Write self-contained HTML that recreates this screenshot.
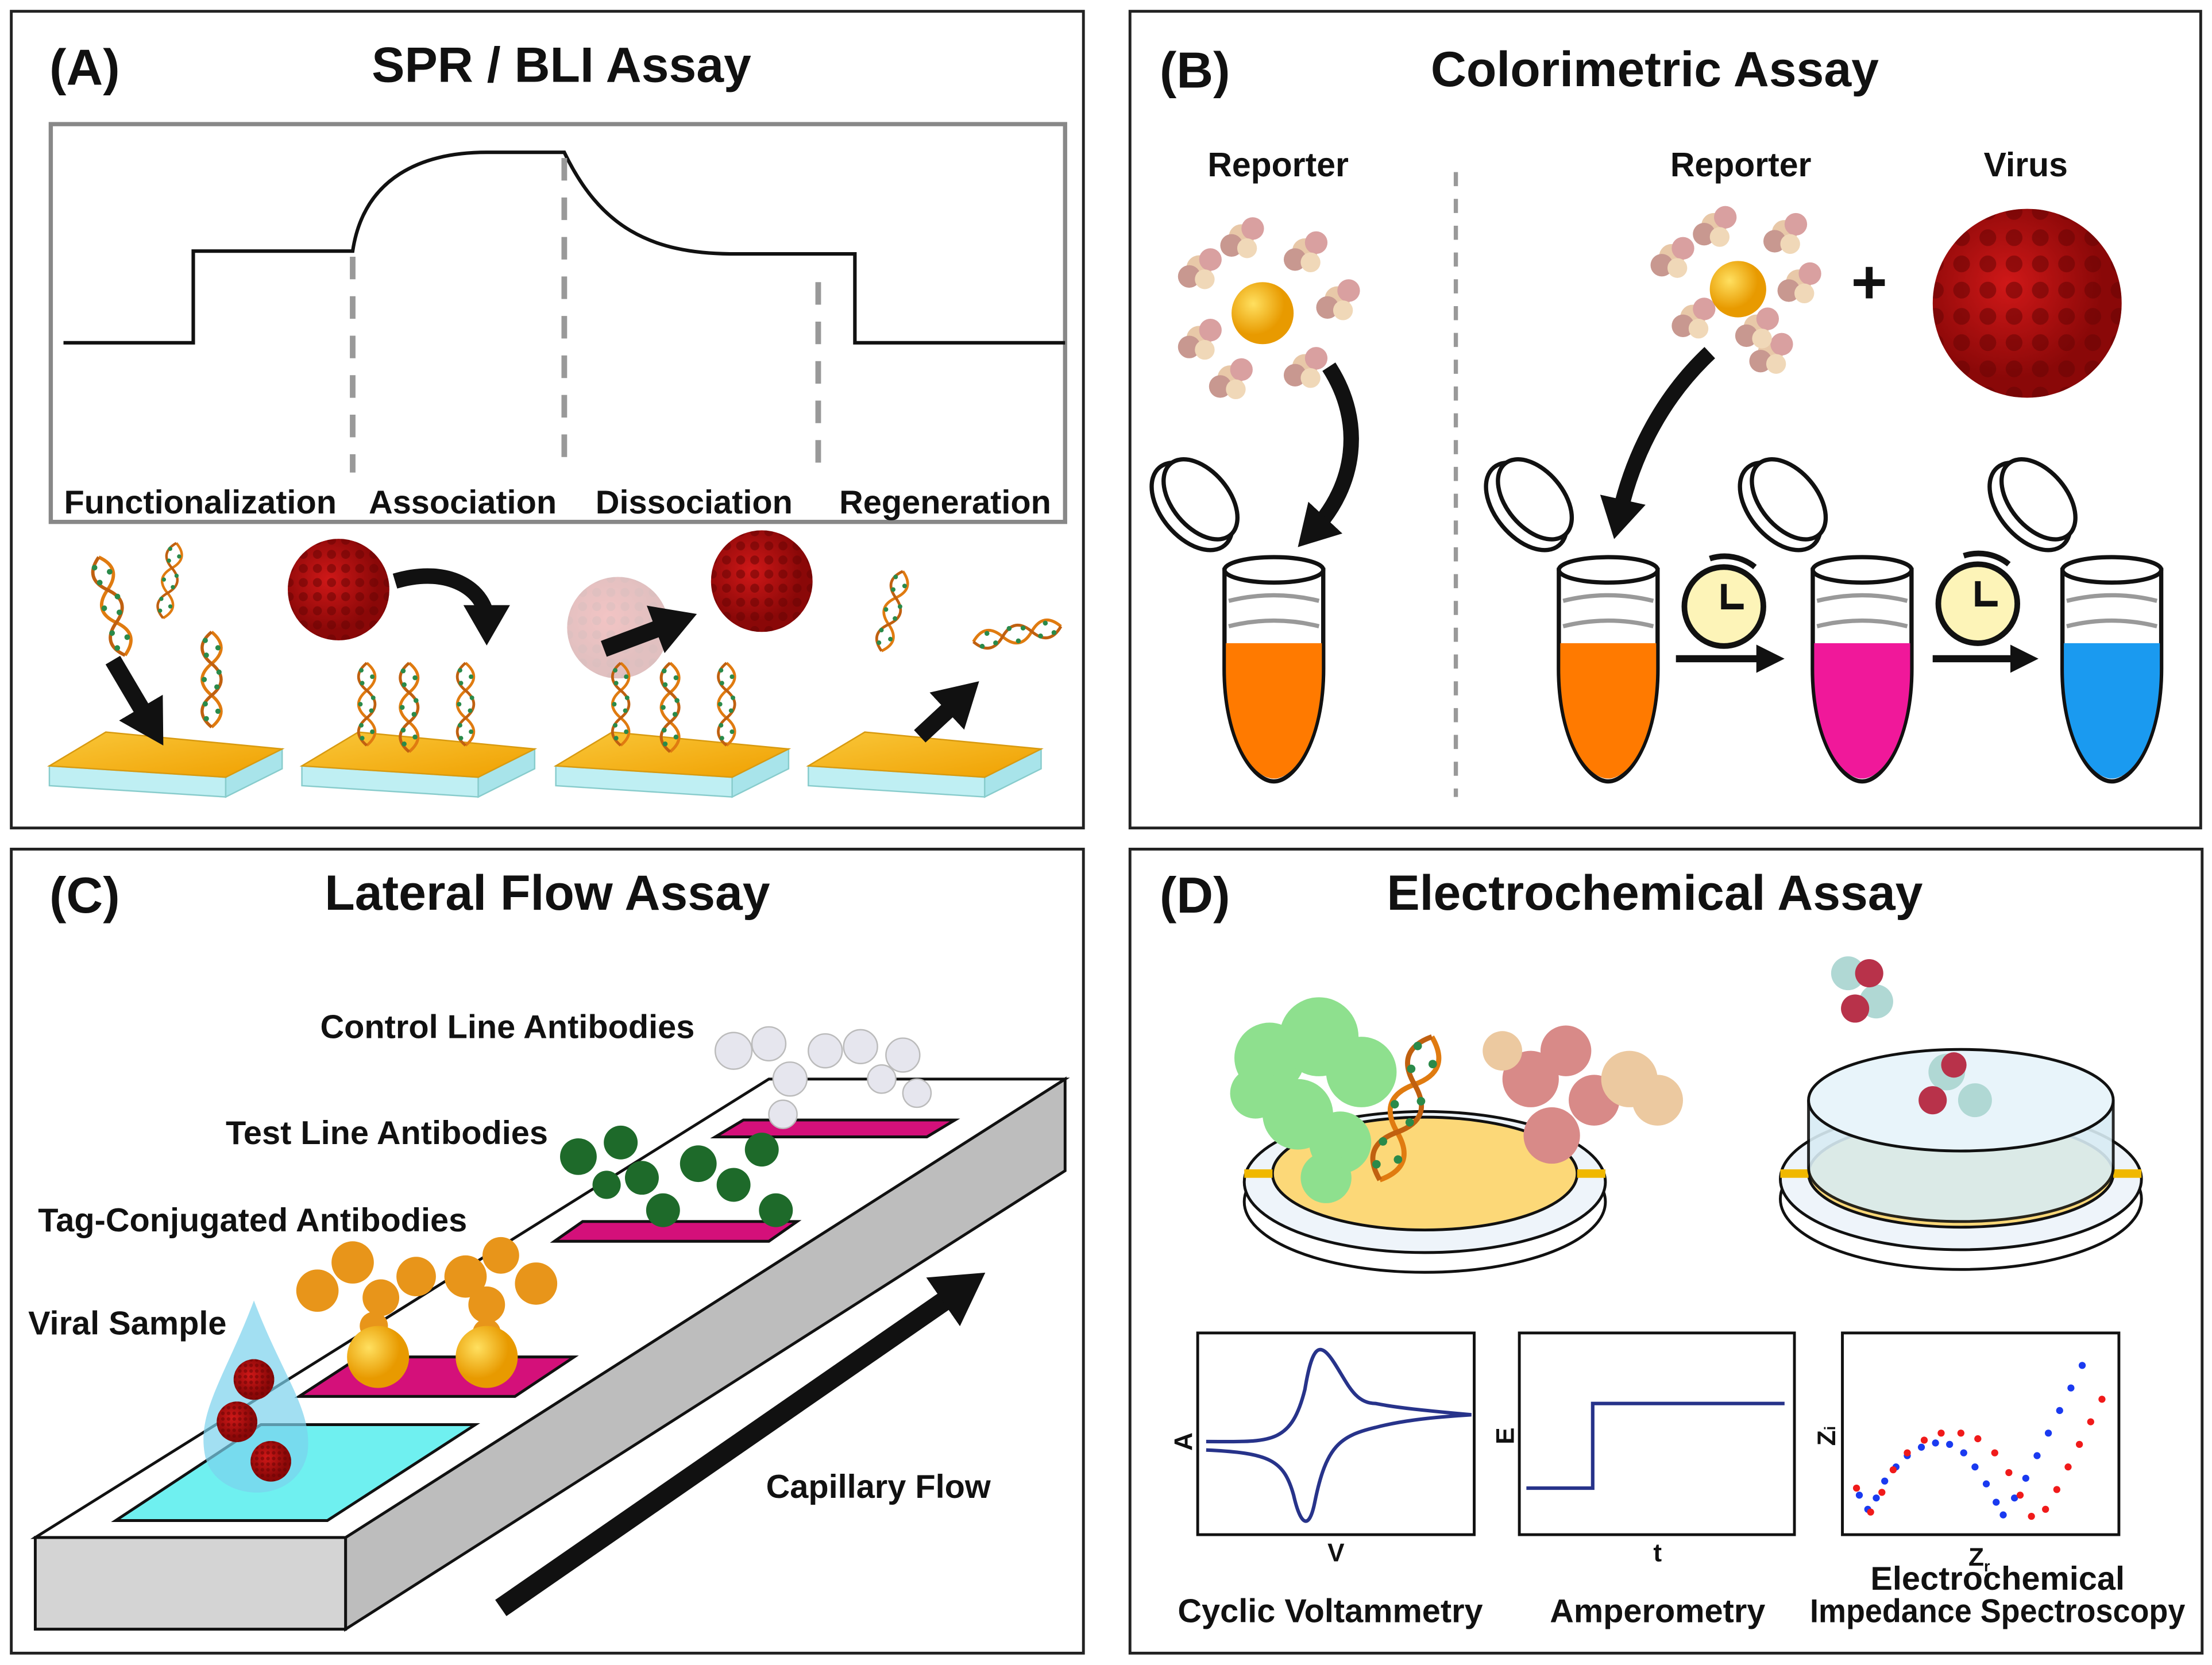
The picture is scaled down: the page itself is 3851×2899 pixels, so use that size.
<!DOCTYPE html>
<html><head><meta charset="utf-8"><style>
html,body{margin:0;padding:0;background:#fff;}
svg{display:block;}
text{font-family:"Liberation Sans",Arial,sans-serif;font-weight:bold;fill:#111;}
</style></head><body>
<svg width="3851" height="2899" viewBox="0 0 1568 1180.4" preserveAspectRatio="none" xmlns="http://www.w3.org/2000/svg">
<defs>
<g id="dna">
<path d="M0,0 C12,10 12,20 0,30 C-12,40 -12,50 0,60 C12,70 12,80 0,90" fill="none" stroke="#e07b10" stroke-width="3"/>
<path d="M0,0 C-12,10 -12,20 0,30 C12,40 12,50 0,60 C-12,70 -12,80 0,90" fill="none" stroke="#c06010" stroke-width="3"/>
<g fill="#2a8a4a"><circle cx="-6" cy="8" r="2.5"/><circle cx="6" cy="15" r="2.5"/><circle cx="-5" cy="22" r="2.5"/><circle cx="7" cy="38" r="2.5"/><circle cx="-7" cy="45" r="2.5"/><circle cx="5" cy="52" r="2.5"/><circle cx="-6" cy="68" r="2.5"/><circle cx="6" cy="75" r="2.5"/><circle cx="-5" cy="82" r="2.5"/></g>
</g>
<linearGradient id="gold" x1="0" y1="0" x2="1" y2="1"><stop offset="0" stop-color="#f9c73a"/><stop offset="1" stop-color="#f0a000"/></linearGradient>
<g id="slab">
<polygon points="0,38 125,46 125,60 0,52" fill="#bfeff3" stroke="#8cc" stroke-width="1"/>
<polygon points="125,46 165,26 165,40 125,60" fill="#a8e4ea" stroke="#8cc" stroke-width="1"/>
<polygon points="0,38 40,14 165,26 125,46" fill="url(#gold)" stroke="#d89a10" stroke-width="1"/>
</g>
<radialGradient id="vir" cx="0.4" cy="0.4"><stop offset="0" stop-color="#d01818"/><stop offset="1" stop-color="#8a0808"/></radialGradient>
<pattern id="vdots" width="10" height="10" patternUnits="userSpaceOnUse"><circle cx="5" cy="5" r="3.2" fill="#6a0404" opacity="0.55"/></pattern>
<g id="virus"><circle r="36" fill="url(#vir)"/><circle r="36" fill="url(#vdots)"/></g>
<radialGradient id="gball" cx="0.35" cy="0.35"><stop offset="0" stop-color="#ffe060"/><stop offset="1" stop-color="#e89a00"/></radialGradient>
<g id="ab"><circle cx="0" cy="0" r="9" fill="#e8c8a8"/><circle cx="8" cy="-6" r="8" fill="#d9a0a0"/><circle cx="-7" cy="6" r="8" fill="#c89890"/><circle cx="4" cy="8" r="7" fill="#f0d8b8"/></g>
<g id="tube">
<path d="M-35,0 L-35,70 C-35,120 -15,150 0,150 C15,150 35,120 35,70 L35,0 Z" fill="#fff" stroke="#111" stroke-width="3"/>
<ellipse cx="0" cy="0" rx="35" ry="9" fill="#fff" stroke="#111" stroke-width="3"/>
<path d="M-32,22 Q0,14 32,22 M-32,40 Q0,32 32,40" stroke="#999" stroke-width="3" fill="none"/>
<ellipse cx="-58" cy="-45" rx="22" ry="36" transform="rotate(-40 -58 -45)" fill="#fff" stroke="#111" stroke-width="3"/>
<ellipse cx="-52" cy="-50" rx="20" ry="33" transform="rotate(-40 -52 -50)" fill="#fff" stroke="#111" stroke-width="3"/>
</g>
<g id="clock"><circle r="28" fill="#fdf4b8" stroke="#111" stroke-width="4"/><path d="M0,-16 V0 H14" stroke="#111" stroke-width="4" fill="none"/><path d="M-10,-34 A34,34 0 0,1 22,-28" stroke="#111" stroke-width="4" fill="none"/></g>
<marker id="ah" markerWidth="2.6" markerHeight="3" refX="1" refY="1.5" orient="auto"><path d="M0,0 L2.6,1.5 L0,3 Z" fill="#111"/></marker>
<marker id="ah2" markerWidth="4" markerHeight="4" refX="1" refY="2" orient="auto"><path d="M0,0 L4,2 L0,4 Z" fill="#111"/></marker>
</defs>
<rect width="1568" height="1180.4" fill="#fff"/>
<g fill="none" stroke="#222" stroke-width="2">
<rect x="8" y="8" width="760" height="579"/>
<rect x="801" y="8" width="759" height="579"/>
<rect x="8" y="602" width="760" height="570"/>
<rect x="801" y="602" width="760" height="570"/>
</g>
<!-- A -->
<text x="35" y="60" font-size="36">(A)</text>
<text x="398" y="58" font-size="35" text-anchor="middle">SPR / BLI Assay</text>
<rect x="36" y="88" width="719" height="282" fill="none" stroke="#888" stroke-width="3"/>
<path d="M45,243 H137 V178 H250 C258,125 300,108 345,108 H400 C425,160 460,180 520,180 H606 V243 H755" fill="none" stroke="#111" stroke-width="2.5"/>
<g stroke="#999" stroke-width="4" stroke-dasharray="16,12"><line x1="250" y1="182" x2="250" y2="335"/><line x1="400" y1="112" x2="400" y2="330"/><line x1="580" y1="200" x2="580" y2="330"/></g>
<g font-size="23.5"><text x="142" y="364" text-anchor="middle">Functionalization</text><text x="328" y="364" text-anchor="middle">Association</text><text x="492" y="364" text-anchor="middle">Dissociation</text><text x="670" y="364" text-anchor="middle">Regeneration</text></g>
<use href="#slab" x="35" y="505"/><use href="#slab" x="214" y="505"/><use href="#slab" x="394" y="505"/><use href="#slab" x="573" y="505"/>
<use href="#dna" transform="translate(70,395) rotate(-15) scale(0.8)"/>
<use href="#dna" transform="translate(125,385) rotate(10) scale(0.6)"/>
<use href="#dna" transform="translate(150,448) scale(0.75)"/>
<path d="M80,468 L106,512" stroke="#111" stroke-width="12" marker-end="url(#ah)"/>
<use href="#virus" x="240" y="418"/>
<path d="M280,412 C320,400 345,420 345,440" fill="none" stroke="#111" stroke-width="11" marker-end="url(#ah)"/>
<use href="#dna" transform="translate(260,470) scale(0.65)"/><use href="#dna" transform="translate(290,470) scale(0.7)"/><use href="#dna" transform="translate(330,470) scale(0.65)"/>
<g opacity="0.25"><use href="#virus" x="438" y="445"/></g>
<use href="#virus" x="540" y="412"/>
<path d="M428,460 L476,442" stroke="#111" stroke-width="12" marker-end="url(#ah)"/>
<use href="#dna" transform="translate(440,470) scale(0.65)"/><use href="#dna" transform="translate(475,470) scale(0.7)"/><use href="#dna" transform="translate(515,470) scale(0.65)"/>
<use href="#dna" transform="translate(640,405) rotate(15) scale(0.65)"/>
<use href="#dna" transform="translate(690,455) rotate(-100) scale(0.7)"/>
<path d="M652,522 L680,496" stroke="#111" stroke-width="12" marker-end="url(#ah)"/>
<!-- B -->
<text x="822" y="62" font-size="36">(B)</text>
<text x="1173" y="61" font-size="35" text-anchor="middle">Colorimetric Assay</text>
<g font-size="24"><text x="906" y="125" text-anchor="middle">Reporter</text><text x="1234" y="125" text-anchor="middle">Reporter</text><text x="1436" y="125" text-anchor="middle">Virus</text></g>
<line x1="1032" y1="122" x2="1032" y2="565" stroke="#999" stroke-width="3" stroke-dasharray="10,9"/>
<g><use href="#ab" x="850" y="190"/><use href="#ab" x="880" y="168"/><use href="#ab" x="925" y="178"/><use href="#ab" x="948" y="212"/><use href="#ab" x="925" y="260"/><use href="#ab" x="872" y="268"/><use href="#ab" x="850" y="240"/><circle cx="895" cy="222" r="22" fill="url(#gball)"/></g>
<g><use href="#ab" x="1185" y="182"/><use href="#ab" x="1215" y="160"/><use href="#ab" x="1265" y="165"/><use href="#ab" x="1275" y="200"/><use href="#ab" x="1255" y="250"/><use href="#ab" x="1200" y="225"/><use href="#ab" x="1245" y="232"/><circle cx="1232" cy="205" r="20" fill="url(#gball)"/></g>
<text x="1325" y="215" font-size="44" text-anchor="middle">+</text>
<g transform="translate(1437,215) scale(1.86)"><use href="#virus"/></g>
<path d="M942,260 C968,300 960,345 932,375" fill="none" stroke="#111" stroke-width="11" marker-end="url(#ah)"/>
<path d="M1212,250 C1180,280 1158,320 1148,365" fill="none" stroke="#111" stroke-width="11" marker-end="url(#ah)"/>
<g transform="translate(903,404)"><use href="#tube"/><path d="M-34,52 L34,52 L34,70 C34,120 15,148 0,148 C-15,148 -34,120 -34,70 Z" fill="#ff7a00"/></g>
<g transform="translate(1140,404)"><use href="#tube"/><path d="M-34,52 L34,52 L34,70 C34,120 15,148 0,148 C-15,148 -34,120 -34,70 Z" fill="#ff7a00"/></g>
<g transform="translate(1320,404)"><use href="#tube"/><path d="M-34,52 L34,52 L34,70 C34,120 15,148 0,148 C-15,148 -34,120 -34,70 Z" fill="#f0189a"/></g>
<g transform="translate(1497,404)"><use href="#tube"/><path d="M-34,52 L34,52 L34,70 C34,120 15,148 0,148 C-15,148 -34,120 -34,70 Z" fill="#1a9af0"/></g>
<use href="#clock" x="1222" y="430"/><use href="#clock" x="1402" y="428"/>
<path d="M1188,467 H1250" stroke="#111" stroke-width="5" marker-end="url(#ah2)"/>
<path d="M1370,467 H1430" stroke="#111" stroke-width="5" marker-end="url(#ah2)"/>
<!-- C -->
<text x="35" y="647" font-size="36">(C)</text>
<text x="388" y="645" font-size="35" text-anchor="middle">Lateral Flow Assay</text>
<polygon points="25,1090 245,1090 245,1155 25,1155" fill="#d4d4d4" stroke="#111" stroke-width="2"/>
<polygon points="245,1090 755,765 755,830 245,1155" fill="#bdbdbd" stroke="#111" stroke-width="2"/>
<polygon points="25,1090 245,1090 755,765 545,765" fill="#fff" stroke="#111" stroke-width="2"/>
<polygon points="82,1078 232,1078 337,1010 185,1010" fill="#6ff0f0" stroke="#111" stroke-width="2"/>
<polygon points="212,990 365,990 407,962 255,962" fill="#d4107a" stroke="#111" stroke-width="2"/>
<polygon points="393,880 545,880 565,866 413,866" fill="#d4107a" stroke="#111" stroke-width="2"/>
<polygon points="507,806 657,806 677,794 527,794" fill="#d4107a" stroke="#111" stroke-width="2"/>
<path d="M355,1140 L680,915" stroke="#111" stroke-width="14" marker-end="url(#ah)"/>
<g fill="#e8951a"><circle cx="225" cy="915" r="15"/><circle cx="250" cy="895" r="15"/><circle cx="270" cy="920" r="13"/><circle cx="295" cy="905" r="14"/><circle cx="330" cy="905" r="15"/><circle cx="345" cy="925" r="13"/><circle cx="380" cy="910" r="15"/><circle cx="355" cy="890" r="13"/><circle cx="265" cy="940" r="10"/><circle cx="345" cy="945" r="10"/></g>
<circle cx="268" cy="962" r="22" fill="url(#gball)"/><circle cx="345" cy="962" r="22" fill="url(#gball)"/>
<g fill="#1e6a2a"><circle cx="410" cy="820" r="13"/><circle cx="440" cy="810" r="12"/><circle cx="455" cy="835" r="12"/><circle cx="470" cy="858" r="12"/><circle cx="495" cy="825" r="13"/><circle cx="520" cy="840" r="12"/><circle cx="540" cy="815" r="12"/><circle cx="550" cy="858" r="12"/><circle cx="430" cy="840" r="10"/></g>
<g fill="#e6e6ee" stroke="#bbb" stroke-width="1"><circle cx="520" cy="745" r="13"/><circle cx="545" cy="740" r="12"/><circle cx="560" cy="765" r="12"/><circle cx="555" cy="790" r="10"/><circle cx="585" cy="745" r="12"/><circle cx="610" cy="742" r="12"/><circle cx="640" cy="748" r="12"/><circle cx="650" cy="775" r="10"/><circle cx="625" cy="765" r="10"/></g>
<path d="M180,922 C160,975 140,1000 145,1030 C150,1065 210,1070 218,1030 C222,1000 200,975 180,922 Z" fill="#7ad2ec" opacity="0.7"/>
<use href="#virus" transform="translate(180,978) scale(0.4)"/><use href="#virus" transform="translate(168,1008) scale(0.4)"/><use href="#virus" transform="translate(192,1036) scale(0.4)"/>
<g font-size="23.5"><text x="227" y="736">Control Line Antibodies</text><text x="160" y="811">Test Line Antibodies</text><text x="27" y="873">Tag-Conjugated Antibodies</text><text x="20" y="946">Viral Sample</text><text x="543" y="1062">Capillary Flow</text></g>
<!-- D -->
<text x="822" y="647" font-size="36">(D)</text>
<text x="1173" y="645" font-size="35" text-anchor="middle">Electrochemical Assay</text>
<ellipse cx="1010" cy="852" rx="128" ry="50" fill="#fff" stroke="#111" stroke-width="2"/>
<ellipse cx="1010" cy="838" rx="128" ry="50" fill="#eef4fa" stroke="#111" stroke-width="2"/>
<ellipse cx="1010" cy="832" rx="108" ry="40" fill="#fcd878" stroke="#111" stroke-width="2"/>
<path d="M882,832 H902 M1118,832 H1138" stroke="#f0b800" stroke-width="6"/>
<g fill="#8ee08e"><circle cx="900" cy="750" r="25"/><circle cx="935" cy="735" r="28"/><circle cx="965" cy="760" r="25"/><circle cx="920" cy="790" r="25"/><circle cx="950" cy="810" r="22"/><circle cx="940" cy="835" r="18"/><circle cx="890" cy="775" r="18"/></g>
<use href="#dna" transform="translate(1015,735) rotate(20) scale(1.2)"/>
<g fill="#d88a88"><circle cx="1085" cy="765" r="20"/><circle cx="1110" cy="745" r="18"/><circle cx="1100" cy="805" r="20"/><circle cx="1130" cy="780" r="18"/></g>
<g fill="#ecc9a0"><circle cx="1155" cy="765" r="20"/><circle cx="1175" cy="780" r="18"/><circle cx="1065" cy="745" r="14"/></g>
<ellipse cx="1390" cy="850" rx="128" ry="50" fill="#fff" stroke="#111" stroke-width="2"/>
<ellipse cx="1390" cy="836" rx="128" ry="50" fill="#eef4fa" stroke="#111" stroke-width="2"/>
<ellipse cx="1390" cy="832" rx="108" ry="38" fill="#fcd878" stroke="#111" stroke-width="2"/>
<path d="M1262,832 H1282 M1498,832 H1518" stroke="#f0b800" stroke-width="6"/>
<path d="M1282,780 V828 A108,38 0 0,0 1498,828 V780" fill="#d8ecf4" stroke="#111" stroke-width="2" opacity="0.9"/>
<ellipse cx="1390" cy="780" rx="108" ry="36" fill="#e8f4fa" stroke="#111" stroke-width="2"/>
<g fill="#b0d8d4"><circle cx="1310" cy="690" r="12"/><circle cx="1330" cy="710" r="12"/><circle cx="1380" cy="760" r="13"/><circle cx="1400" cy="780" r="12"/></g>
<g fill="#b8324a"><circle cx="1325" cy="690" r="10"/><circle cx="1315" cy="715" r="10"/><circle cx="1370" cy="780" r="10"/><circle cx="1385" cy="755" r="9"/></g>
<g fill="none" stroke="#111" stroke-width="2"><rect x="849" y="945" width="196" height="143"/><rect x="1077" y="945" width="195" height="143"/><rect x="1306" y="945" width="196" height="143"/></g>
<path d="M855,1022 C900,1022 915,1025 925,985 C930,955 935,950 945,965 C955,980 960,995 975,995 C990,998 1010,1000 1043,1003 C1010,1005 990,1008 975,1012 C950,1018 940,1025 932,1065 C928,1085 922,1082 917,1060 C910,1035 900,1030 855,1028" fill="none" stroke="#27338a" stroke-width="2.5"/>
<path d="M1082,1055 H1129 V995 H1265" fill="none" stroke="#27338a" stroke-width="2.5"/>
<g fill="#1a3af0"><circle cx="1318" cy="1060" r="2.5"/><circle cx="1324" cy="1070" r="2.5"/><circle cx="1330" cy="1062" r="2.5"/><circle cx="1336" cy="1050" r="2.5"/><circle cx="1344" cy="1040" r="2.5"/><circle cx="1352" cy="1032" r="2.5"/><circle cx="1362" cy="1026" r="2.5"/><circle cx="1372" cy="1023" r="2.5"/><circle cx="1382" cy="1024" r="2.5"/><circle cx="1392" cy="1030" r="2.5"/><circle cx="1400" cy="1040" r="2.5"/><circle cx="1408" cy="1052" r="2.5"/><circle cx="1415" cy="1065" r="2.5"/><circle cx="1420" cy="1074" r="2.5"/><circle cx="1428" cy="1062" r="2.5"/><circle cx="1436" cy="1048" r="2.5"/><circle cx="1444" cy="1032" r="2.5"/><circle cx="1452" cy="1016" r="2.5"/><circle cx="1460" cy="1000" r="2.5"/><circle cx="1468" cy="984" r="2.5"/><circle cx="1476" cy="968" r="2.5"/></g>
<g fill="#f01a1a"><circle cx="1316" cy="1055" r="2.5"/><circle cx="1326" cy="1072" r="2.5"/><circle cx="1334" cy="1058" r="2.5"/><circle cx="1342" cy="1042" r="2.5"/><circle cx="1352" cy="1030" r="2.5"/><circle cx="1364" cy="1021" r="2.5"/><circle cx="1376" cy="1016" r="2.5"/><circle cx="1390" cy="1016" r="2.5"/><circle cx="1402" cy="1020" r="2.5"/><circle cx="1414" cy="1030" r="2.5"/><circle cx="1424" cy="1044" r="2.5"/><circle cx="1432" cy="1060" r="2.5"/><circle cx="1440" cy="1075" r="2.5"/><circle cx="1450" cy="1070" r="2.5"/><circle cx="1458" cy="1056" r="2.5"/><circle cx="1466" cy="1040" r="2.5"/><circle cx="1474" cy="1024" r="2.5"/><circle cx="1482" cy="1008" r="2.5"/><circle cx="1490" cy="992" r="2.5"/></g>
<g font-size="18"><text x="845" y="1022" transform="rotate(-90 845 1022)" text-anchor="middle">A</text><text x="947" y="1107" text-anchor="middle">V</text><text x="1073" y="1018" transform="rotate(-90 1073 1018)" text-anchor="middle">E</text><text x="1175" y="1107" text-anchor="middle">t</text><text x="1301" y="1018" transform="rotate(-90 1301 1018)" text-anchor="middle">Z<tspan font-size="11">i</tspan></text><text x="1403" y="1110" text-anchor="middle">Z<tspan font-size="11" dy="4">r</tspan></text></g>
<g font-size="23.5"><text x="943" y="1150" text-anchor="middle">Cyclic Voltammetry</text><text x="1175" y="1150" text-anchor="middle">Amperometry</text><text x="1416" y="1127" text-anchor="middle">Electrochemical</text><text x="1416" y="1150" text-anchor="middle" textLength="266" lengthAdjust="spacingAndGlyphs">Impedance Spectroscopy</text></g>
</svg>
</body></html>
